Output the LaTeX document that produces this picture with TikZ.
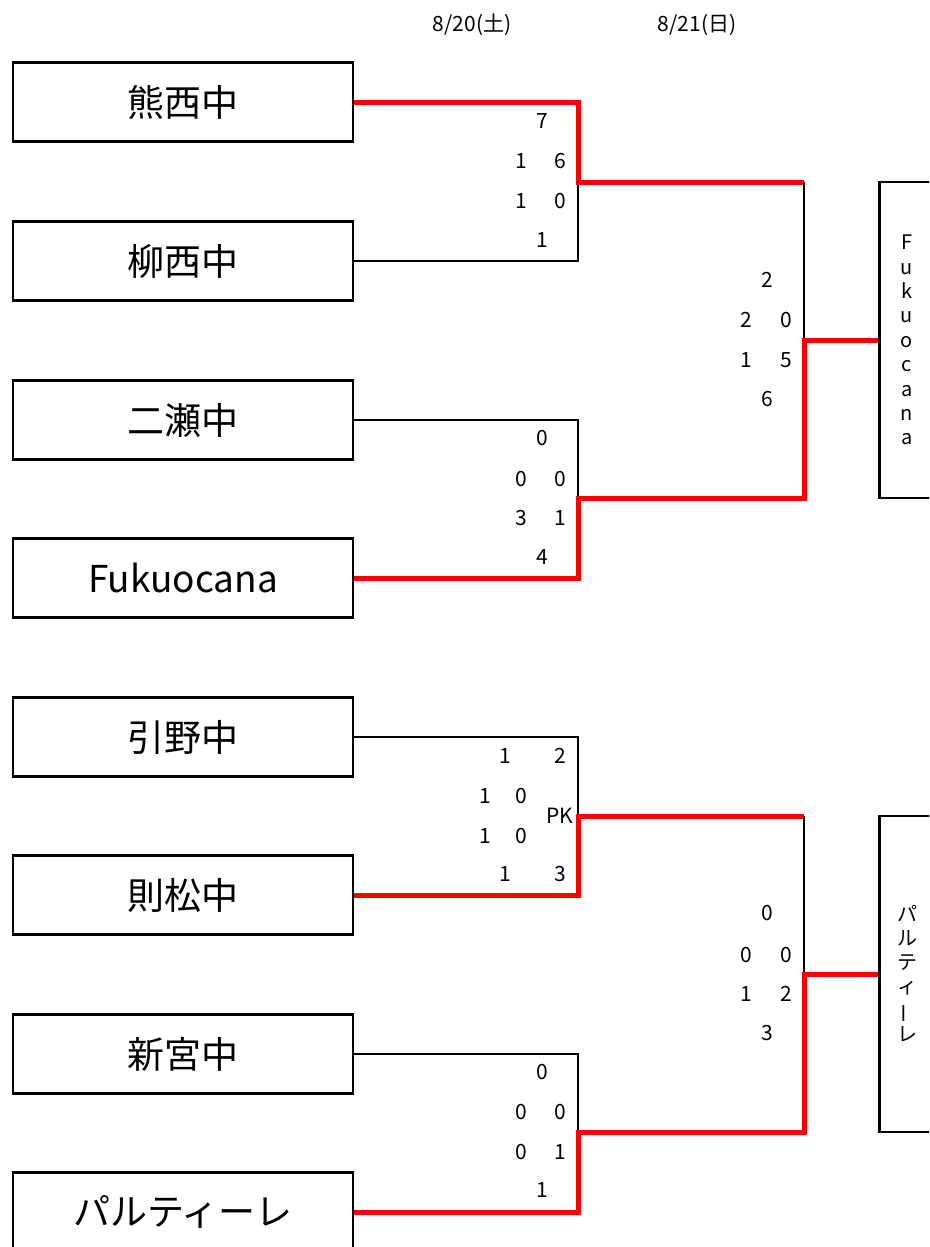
\documentclass[tikz,border=0pt]{standalone}
\usepackage{fontspec}
\setmainfont{Noto Sans CJK JP}
\tikzset{
team/.style={draw, line width=2.5pt, minimum width=340pt, minimum height=79pt, inner sep=0pt, font=\fontsize{37}{37}\selectfont},
champ/.style={draw, line width=2.5pt, minimum width=120pt, anchor=west, inner sep=0pt},
champname/.style={inner sep=0pt, align=center, font=\fontsize{20}{24.4}\selectfont},
score/.style={inner sep=0pt, font=\fontsize{21}{21}\selectfont},
date/.style={inner sep=0pt, font=\fontsize{21}{21}\selectfont},
lose/.style={draw=black, line width=2.5pt},
win/.style={draw=red, line width=5pt, line join=miter}
}
\begin{document}
\begin{tikzpicture}[x=1pt,y=-1pt]
  \useasboundingbox (0,0) rectangle (929,1247);
  \clip (0,0) rectangle (929,1247);

  % dates
  \node[date] (d1) at (472,25) {8/20(土)};
  \node[date] (d2) at (697,25) {8/21(日)};

  % teams
  \node[team] (t1) at (183,102) {熊西中};
  \node[team] (t2) at (183,261) {柳西中};
  \node[team] (t3) at (183,420) {二瀬中};
  \node[team] (t4) at (183,578) {Fukuocana};
  \node[team] (t5) at (183,737) {引野中};
  \node[team] (t6) at (183,895) {則松中};
  \node[team] (t7) at (183,1054) {新宮中};
  \node[team] (t8) at (183,1212) {パルティーレ};

  % winners
  \node[champ, minimum height=316pt] (w1) at (878,340) {};
  \node[champname] (w1n) at (907,340) {F\\u\\k\\u\\o\\c\\a\\n\\a};
  \node[champ, minimum height=316pt] (w2) at (878,974) {};
  \node[champname, font=\fontsize{20}{24}\selectfont] (w2n) at (907,974)
    {パ\\ル\\テ\\ィ\\\rotatebox[origin=c]{90}{ー}\\レ};

  % bracket joints
  \coordinate (m1) at (578,182);
  \coordinate (m2) at (578,498);
  \coordinate (m3) at (578,816);
  \coordinate (m4) at (578,1132);
  \coordinate (f1) at (804,182);
  \coordinate (f2) at (804,498);
  \coordinate (f3) at (804,816);
  \coordinate (f4) at (804,1132);

  % losers
  \draw[lose] (t2.east) -| (m1);
  \draw[lose] (t3.east) -| (m2);
  \draw[lose] (t5.east) -| (m3);
  \draw[lose] (t7.east) -| (m4);
  \draw[lose] (f1) -- (f1 |- w1.west);
  \draw[lose] (f3) -- (f3 |- w2.west);

  % winners path
  \draw[win] (t1.east) -| (m1) -- (f1);
  \draw[win] (t4.east) -| (m2) -- (f2) |- (w1.west);
  \draw[win] (t6.east) -| (m3) -- (f3);
  \draw[win] (t8.east) -| (m4) -- (f4) |- (w2.west);

  % scores, 1st round
  \node[score] (s1a) at (542,121) {7};
  \node[score] (s1b) at (521,161) {1};
  \node[score] (s1c) at (560,161) {6};
  \node[score] (s1d) at (521,201) {1};
  \node[score] (s1e) at (560,201) {0};
  \node[score] (s1f) at (542,240) {1};

  \node[score] (s2a) at (542,438) {0};
  \node[score] (s2b) at (521,479) {0};
  \node[score] (s2c) at (560,479) {0};
  \node[score] (s2d) at (521,518) {3};
  \node[score] (s2e) at (560,518) {1};
  \node[score] (s2f) at (542,557) {4};

  \node[score] (s3a) at (505,756) {1};
  \node[score] (s3b) at (560,756) {2};
  \node[score] (s3c) at (485,796) {1};
  \node[score] (s3d) at (521,796) {0};
  \node[score] (s3e) at (560,816) {PK};
  \node[score] (s3f) at (485,836) {1};
  \node[score] (s3g) at (521,836) {0};
  \node[score] (s3h) at (505,874) {1};
  \node[score] (s3i) at (560,874) {3};

  \node[score] (s4a) at (542,1072) {0};
  \node[score] (s4b) at (521,1112) {0};
  \node[score] (s4c) at (560,1112) {0};
  \node[score] (s4d) at (521,1152) {0};
  \node[score] (s4e) at (560,1152) {1};
  \node[score] (s4f) at (542,1190) {1};

  % scores, final
  \node[score] (s5a) at (767,280) {2};
  \node[score] (s5b) at (746,320) {2};
  \node[score] (s5c) at (786,320) {0};
  \node[score] (s5d) at (746,360) {1};
  \node[score] (s5e) at (786,360) {5};
  \node[score] (s5f) at (767,399) {6};

  \node[score] (s6a) at (767,913) {0};
  \node[score] (s6b) at (746,955) {0};
  \node[score] (s6c) at (786,955) {0};
  \node[score] (s6d) at (746,994) {1};
  \node[score] (s6e) at (786,994) {2};
  \node[score] (s6f) at (767,1033) {3};
\end{tikzpicture}
\end{document}
